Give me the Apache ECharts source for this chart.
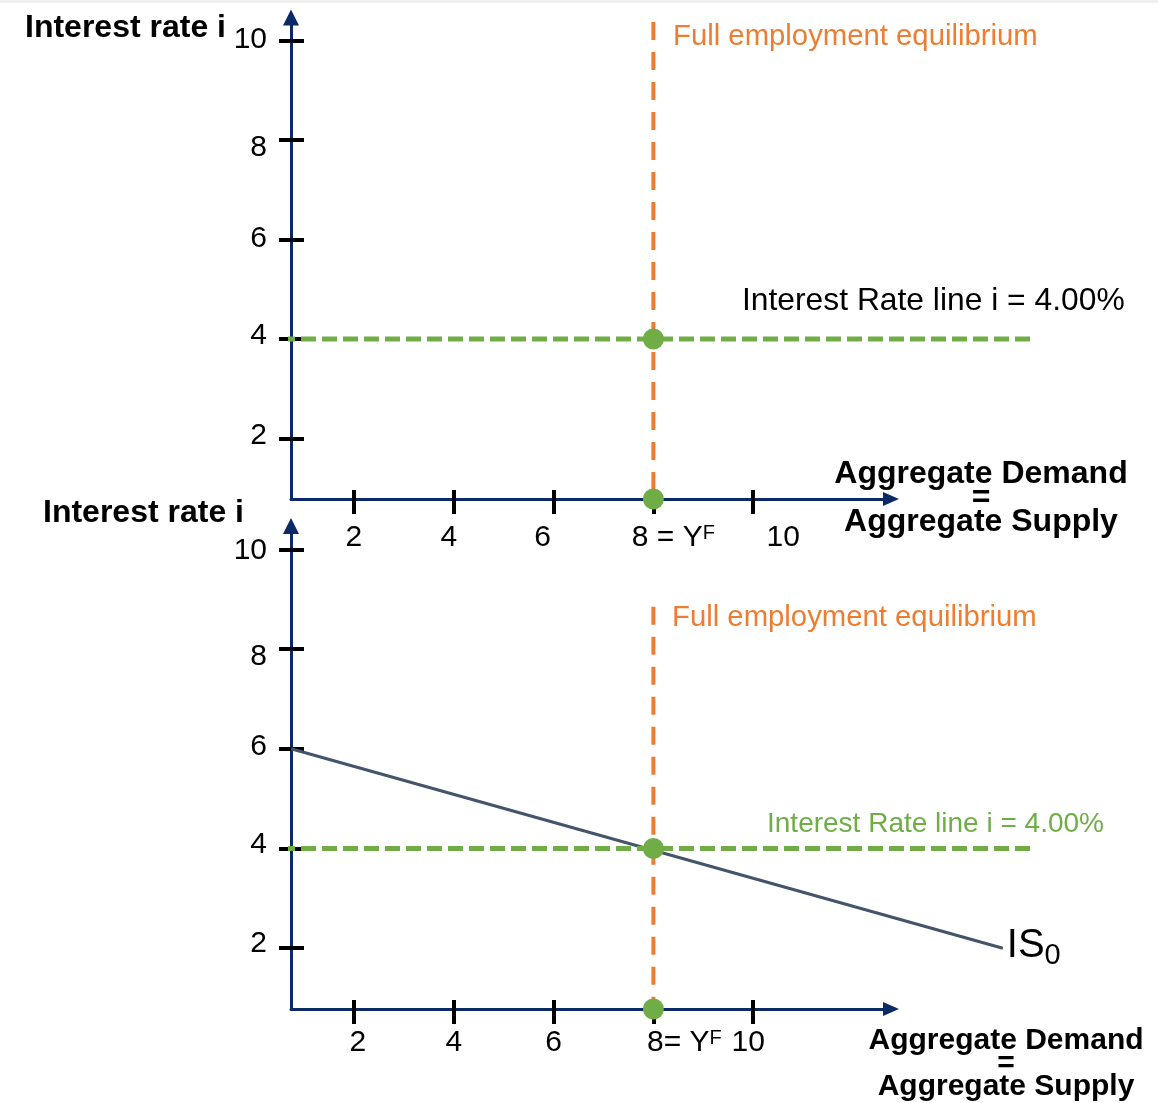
<!DOCTYPE html>
<html>
<head>
<meta charset="utf-8">
<title>IS curve - full employment</title>
<script src="https://cdn.jsdelivr.net/npm/echarts@6/dist/echarts.min.js"></script>
<style>html,body{margin:0;padding:0;background:#fff;}</style>
</head>
<body>
<div id="main" style="width:1158px;height:1103px;"></div>
<script>
// tick values on both axes
var xTicks = [2, 4, 6, 8, 10];
var yTicks = [2, 4, 6, 8, 10];

// the two axes cross a bit above/right of zero
var xStart = 0.74, xEnd = 12.76;
var yStart = 0.78, yEnd = 10.47;
// lines run on past the arrow of the x axis
var xWideEnd = 16;

// full employment output Y^F = 8, interest rate i = 4
var fullEmpTop = [[8, 10.38], [8, 0.78]];
var fullEmpBottom = [[8, 8.85], [8, 0.78]];
var rateLineTop = [[0.52, 4], [15.65, 4]];
var rateLineBottom = [[0.52, 4], [15.55, 4]];
var isCurve = [[0.74, 6], [15, 2]];
var eqPoints = [[8, 4], [8, 0.78]];

var FONT = '"Liberation Sans", Arial, sans-serif';
var AXIS_COLOR = '#0b2a66';
var ORANGE = '#ed7d31';
var GREEN = '#70ad47';

// small label nudges (px) so labels sit like in the source picture
var xNudge = [{2: 0, 4: -5, 6: -11, 8: 20, 10: 30}, {2: 4, 4: 0, 6: 0, 8: 31, 10: -5}];
var yNudge = [{2: -3, 4: -3, 6: -1, 8: 7, 10: -1}, {2: -4, 4: -4, 6: -2, 8: 8, 10: 1}];
var eqLabel = ['8 = Y', '8= Y'];

var plotW = 600;
var pxPerX = plotW / (xEnd - xStart);

function xLabel(k, margin) {
    var rich = {sup: {fontSize: 20, fontFamily: FONT, color: '#000', verticalAlign: 'top'}};
    xTicks.forEach(function (v) {
        var d = xNudge[k][v];
        rich['n' + v] = {fontSize: 30, fontFamily: FONT, color: '#000',
            padding: [0, d < 0 ? -2 * d : 0, 0, d > 0 ? 2 * d : 0]};
    });
    return {
        show: true, customValues: xTicks, margin: margin,
        fontSize: 30, fontFamily: FONT, color: '#000',
        formatter: function (val) {
            if (val === 8) return '{n8|' + eqLabel[k] + '}{sup|F}';
            return '{n' + val + '|' + val + '}';
        },
        rich: rich
    };
}

function yLabel(k) {
    var rich = {};
    yTicks.forEach(function (v) {
        var d = yNudge[k][v];
        rich['m' + v] = {fontSize: 30, fontFamily: FONT, color: '#000',
            padding: [d > 0 ? 2 * d : 0, 0, d < 0 ? -2 * d : 0, 0]};
    });
    return {
        show: true, customValues: yTicks, margin: 24,
        fontSize: 30, fontFamily: FONT, color: '#000',
        formatter: function (val) { return '{m' + val + '|' + val + '}'; },
        rich: rich
    };
}

function xAxes(grid, labelMargin, k) {
    var base = {type: 'value', gridIndex: grid, min: xStart, max: xEnd, position: 'bottom', splitLine: {show: false}};
    return [
        Object.assign({}, base, {
            axisLine: {show: true, onZero: false, symbol: ['none', 'triangle'], symbolSize: [14, 16],
                lineStyle: {color: AXIS_COLOR, width: 3}},
            axisTick: {show: true, customValues: xTicks, inside: false, length: 15, lineStyle: {color: '#000', width: 4}},
            axisLabel: xLabel(k, labelMargin)
        }),
        Object.assign({}, base, {
            axisLine: {show: false, onZero: false},
            axisTick: {show: true, customValues: xTicks, inside: true, length: 9, lineStyle: {color: '#000', width: 4}},
            axisLabel: {show: false}
        })
    ];
}

function yAxes(grid, k) {
    var base = {type: 'value', gridIndex: grid, min: yStart, max: yEnd, position: 'left', splitLine: {show: false}};
    return [
        Object.assign({}, base, {
            axisLine: {show: true, onZero: false, symbol: ['none', 'triangle'], symbolSize: [16, 16],
                lineStyle: {color: AXIS_COLOR, width: 3}},
            axisTick: {show: true, customValues: yTicks, inside: false, length: 12, lineStyle: {color: '#000', width: 4}},
            axisLabel: yLabel(k)
        }),
        Object.assign({}, base, {
            axisLine: {show: false, onZero: false},
            axisTick: {show: true, customValues: yTicks, inside: true, length: 13, lineStyle: {color: '#000', width: 4}},
            axisLabel: {show: false}
        })
    ];
}

// hidden axes of the wider grids (same scale, longer x range)
function hiddenAxis(grid, min, max) {
    return {type: 'value', gridIndex: grid, min: min, max: max, show: false};
}

function plain(data, xi, color, width, type, z) {
    return {
        type: 'line', xAxisIndex: xi, yAxisIndex: xi, data: data,
        symbol: 'none', clip: false, silent: true, z: z,
        lineStyle: {color: color, width: width, type: type}
    };
}

function dots(xi) {
    return {
        type: 'scatter', xAxisIndex: xi, yAxisIndex: xi, data: eqPoints,
        symbolSize: 21, itemStyle: {color: GREEN, opacity: 1}, z: 6, silent: true, clip: false
    };
}

var isSeries = plain(isCurve, 5, '#44546a', 3, 'solid', 3);
isSeries.endLabel = {
    show: true, distance: 4, offset: [0, 0],
    formatter: '{a|IS}{b|0}',
    rich: {
        a: {fontSize: 40, fontFamily: FONT, color: '#000', verticalAlign: 'bottom', padding: [0, 0, 4, 0]},
        b: {fontSize: 29, fontFamily: FONT, color: '#000', verticalAlign: 'bottom'}
    }
};

var gridTop = {left: 291, top: 17.5, height: 481.5};
var gridBot = {left: 291, top: 526, height: 483};
var wideW = (xWideEnd - xStart) * pxPerX;

var option = {
    animation: false,
    backgroundColor: '#fff',
    grid: [
        Object.assign({width: plotW}, gridTop),
        Object.assign({width: plotW}, gridBot),
        Object.assign({width: wideW}, gridTop),
        Object.assign({width: wideW}, gridBot)
    ],
    xAxis: xAxes(0, 24, 0).concat(xAxes(1, 19, 1), [hiddenAxis(2, xStart, xWideEnd), hiddenAxis(3, xStart, xWideEnd)]),
    yAxis: yAxes(0, 0).concat(yAxes(1, 1), [hiddenAxis(2, yStart, yEnd), hiddenAxis(3, yStart, yEnd)]),
    series: [
        plain(fullEmpTop, 0, ORANGE, 4, [18, 12], 2),
        plain(rateLineTop, 4, GREEN, 5, [15, 6], 4),
        dots(0),
        plain(fullEmpBottom, 2, ORANGE, 4, [18, 12], 2),
        isSeries,
        plain(rateLineBottom, 5, GREEN, 5, [15, 6], 4),
        dots(2)
    ],
    graphic: [
        {type: 'rect', shape: {x: 0, y: 0, width: 1158, height: 3}, style: {fill: '#f0f0f0'}, silent: true},
        {type: 'text', x: 25, y: 28, style: {text: 'Interest rate i', font: 'bold 32px ' + FONT, fill: '#000', align: 'left', verticalAlign: 'middle'}},
        {type: 'text', x: 43, y: 513, style: {text: 'Interest rate i', font: 'bold 32px ' + FONT, fill: '#000', align: 'left', verticalAlign: 'middle'}},
        {type: 'text', x: 673, y: 37, style: {text: 'Full employment equilibrium', font: '29.3px ' + FONT, fill: ORANGE, align: 'left', verticalAlign: 'middle'}},
        {type: 'text', x: 672, y: 618, style: {text: 'Full employment equilibrium', font: '29.3px ' + FONT, fill: ORANGE, align: 'left', verticalAlign: 'middle'}},
        {type: 'text', x: 742, y: 301, style: {text: 'Interest Rate line i = 4.00%', font: '31.8px ' + FONT, fill: '#000', align: 'left', verticalAlign: 'middle'}},
        {type: 'text', x: 767, y: 824, style: {text: 'Interest Rate line i = 4.00%', font: '28px ' + FONT, fill: GREEN, align: 'left', verticalAlign: 'middle'}},
        {type: 'text', x: 981, y: 498, style: {text: 'Aggregate Demand\n=\nAggregate Supply', font: 'bold 32px ' + FONT, lineHeight: 24, fill: '#000', align: 'center', verticalAlign: 'middle'}},
        {type: 'text', x: 1006, y: 1064, style: {text: 'Aggregate Demand\n=\nAggregate Supply', font: 'bold 30px ' + FONT, lineHeight: 23, fill: '#000', align: 'center', verticalAlign: 'middle'}}
    ]
};

var myChart = echarts.init(document.getElementById('main'));
myChart.setOption(option);
</script>
</body>
</html>
